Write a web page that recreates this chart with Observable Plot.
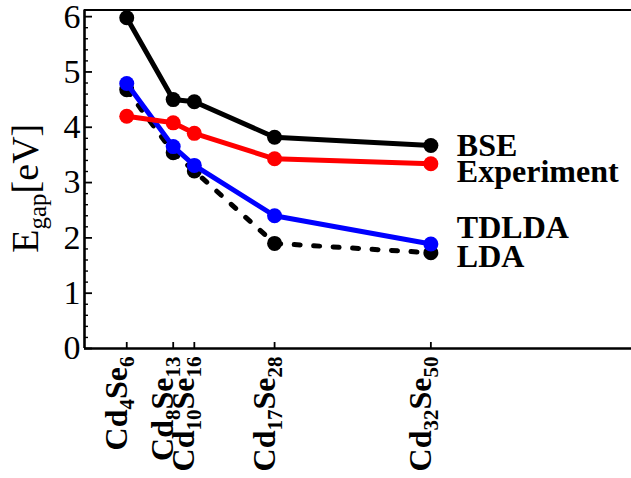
<!DOCTYPE html>
<html><head><meta charset="utf-8">
<script src="https://cdn.jsdelivr.net/npm/d3@7"></script>
<script src="https://cdn.jsdelivr.net/npm/@observablehq/plot@0.6"></script>
<style>body{margin:0;background:#fff} svg{display:block}</style>
</head><body><div id="chart"></div>
<script>
// ---- data ----
const clusters = ["Cd4Se6", "Cd8Se13", "Cd10Se16", "Cd17Se28", "Cd32Se50"];
const atoms = [10, 21, 26, 45, 82];
const bse = [5.98, 4.50, 4.46, 3.82, 3.67];
const experiment = [4.20, 4.08, 3.89, 3.43, 3.34];
const tdlda = [4.79, 3.65, 3.31, 2.40, 1.89];
const lda = [4.68, 3.54, 3.21, 1.90, 1.73];
const yTicks = [0, 1, 2, 3, 4, 5, 6];
const yMinorTicks = d3.range(0, 31).filter(i => i % 5 !== 0).map(i => i / 5);
const yLabel = "Egap[eV]";

// series config (drawing order: LDA, TDLDA, Experiment, BSE)
const series = [
  {name: "LDA", values: lda, color: "black", dash: "6,13.5", labelDy: 4},
  {name: "TDLDA", values: tdlda, color: "blue", dash: null, labelDy: -16},
  {name: "Experiment", values: experiment, color: "red", dash: null, labelDy: 8},
  {name: "BSE", values: bse, color: "black", dash: null, labelDy: 0}
];

// ---- layout ----
const W = 631, H = 478;
const mL = 84, mT = 9.5, mB = 130, mR = 0;
const plotW = W - mL - mR, plotH = H - mT - mB;
const yTop = 6.12;
const xFont = 32, xSub = 21, xShift = 7;
const yFont = 38, ySub = 25, yShift = 8;

const marks = [];
marks.push(Plot.ruleY([yTop], {strokeWidth: 2}));
marks.push(Plot.ruleX([0], {strokeWidth: 2.6}));
marks.push(Plot.ruleY([0], {strokeWidth: 2.6}));
marks.push(Plot.tickY(yMinorTicks, {y: d => d, insetRight: plotW - 4, strokeWidth: 1.4}));
marks.push(Plot.tickY(yTicks, {y: d => d, insetRight: plotW - 8, strokeWidth: 1.8}));
marks.push(Plot.tickX(atoms, {x: d => d, insetTop: plotH - 6, strokeWidth: 1.8}));
marks.push(Plot.axisY({ticks: yTicks, tickSize: 0, tickPadding: 4, fontSize: 34, label: null, tickFormat: d => String(d)}));

for (const s of series) {
  const rows = atoms.map((a, i) => ({atoms: a, value: s.values[i]}));
  marks.push(Plot.line(rows, {x: "atoms", y: "value", stroke: s.color, strokeWidth: 5,
    strokeDasharray: s.dash || undefined, strokeLinecap: "round", strokeLinejoin: "round"}));
  marks.push(Plot.dot(rows, {x: "atoms", y: "value", r: 7.5, fill: s.color, stroke: "none"}));
}
for (const s of series) {
  const last = [{atoms: atoms[atoms.length - 1], value: s.values[s.values.length - 1], name: s.name}];
  marks.push(Plot.text(last, {x: "atoms", y: "value", text: "name", dx: 26, dy: s.labelDy,
    textAnchor: "start", fontSize: 32, fontWeight: "bold", fill: "black"}));
}
marks.push(Plot.text(clusters, {x: (d, i) => atoms[i], text: d => d, frameAnchor: "bottom", rotate: -90,
  textAnchor: "end", dy: 8, fontSize: xFont, fontWeight: "bold", fill: "black"}));
marks.push(Plot.text([yLabel], {text: d => d, frameAnchor: "left", rotate: -90, dx: -59, dy: 9,
  textAnchor: "middle", fontSize: yFont, fill: "black"}));

const chart = Plot.plot({
  width: W, height: H,
  marginLeft: mL, marginTop: mT, marginBottom: mB, marginRight: mR,
  style: {fontFamily: "'Liberation Serif','Times New Roman',serif", background: "white", color: "black", overflow: "visible"},
  x: {domain: [0, 129.5], axis: null},
  y: {domain: [0, yTop], axis: null},
  marks
});
document.getElementById("chart").appendChild(chart);

// ---- subscripts ----
function buildParts(el, parts, base, subSize, shift) {
  const t = d3.select(el);
  t.text(null);
  let prevSub = false;
  for (const p of parts) {
    if (!p.t) continue;
    const ts = t.append("tspan").text(p.t);
    if (p.sub) {
      ts.attr("font-size", subSize);
      if (!prevSub) ts.attr("dy", shift);
    } else {
      ts.attr("font-size", base);
      if (prevSub) ts.attr("dy", -shift);
    }
    prevSub = p.sub;
  }
}
d3.select(chart).selectAll("text").each(function() {
  const txt = this.textContent;
  if (clusters.includes(txt)) {
    const parts = txt.split(/(\d+)/).map((t, i) => ({t, sub: i % 2 === 1}));
    buildParts(this, parts, xFont, xSub, xShift);
  } else if (txt === yLabel) {
    buildParts(this, [{t: "E", sub: false}, {t: "gap", sub: true}, {t: "[eV]", sub: false}], yFont, ySub, yShift);
  }
});
</script>
</body></html>
